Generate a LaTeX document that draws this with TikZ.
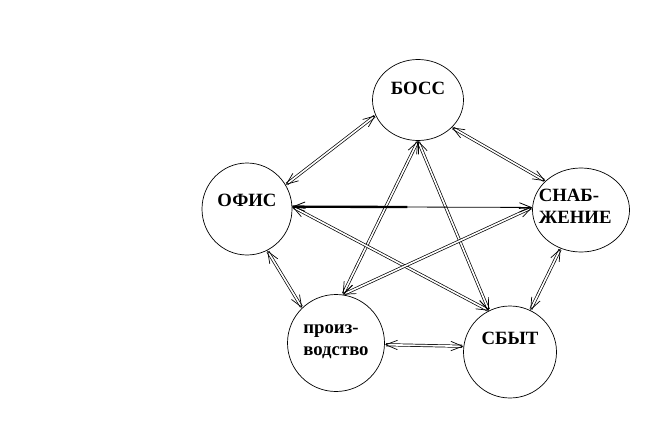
\documentclass[tikz,border=0pt]{standalone}
\usepackage{fontspec}
\setmainfont{Liberation Serif}
\usetikzlibrary{arrows.meta, shapes.geometric, calc}

\begin{document}
\begin{tikzpicture}[
    x=0.03cm, y=-0.03cm,
    font=\fontsize{16}{19}\selectfont\bfseries,
    blob/.style={ellipse, draw, line width=0.6pt, inner sep=0pt},
    tag/.style={align=left, inner sep=0pt},
    link/.style={double, double distance=1.4pt, line width=0.6pt,
        {Straight Barb[length=10pt, width=8pt]}-{Straight Barb[length=10pt, width=8pt]}},
    solidlink/.style={line width=0.7pt,
        {Straight Barb[length=10pt, width=8pt]}-{Straight Barb[length=10pt, width=8pt]}},
    ]

    \useasboundingbox (0,0) rectangle (655,423);

    % circles of the five departments
    \node[blob, minimum width=2.73cm, minimum height=2.43cm,
          label={[tag, yshift=10pt]center:БОСС}] (boss) at (418,100) {};
    \node[blob, minimum width=2.70cm, minimum height=2.76cm,
          label={[tag, yshift=7pt]center:ОФИС}] (ofis) at (247,209) {};
    \node[blob, minimum width=2.91cm, minimum height=2.52cm,
          label={[tag, xshift=-5pt, yshift=3pt]center:СНАБ-\\ЖЕНИЕ}] (snab) at (581,210) {};
    \node[blob, minimum width=2.91cm, minimum height=2.91cm,
          label={[tag, yshift=1pt]center:произ-\\водство}] (proiz) at (336,343) {};
    \node[blob, minimum width=2.79cm, minimum height=2.76cm,
          label={[tag, yshift=12pt]center:СБЫТ}] (sbyt) at (510,352) {};

    % outer ring
    \draw[link] (boss.200) -- (ofis.32);
    \draw[link] (boss.321) -- (snab.141);
    \draw[link] (snab.242) -- (sbyt.64);
    \draw[link] (proiz.358) -- (sbyt.173);
    \draw[link] (ofis.296) -- (proiz.134);

    % inner star
    \draw[link] (boss.270) -- (proiz.82);
    \draw[link] (boss.270) -- (sbyt.117);
    \draw[link] (ofis.3) -- (sbyt.117);
    \draw[link] (snab.177) -- (proiz.82);
    \draw[solidlink] (ofis.3) -- (snab.177);
    \coordinate (half) at ($(ofis.3)!0.48!(snab.177)$);
    \draw[line width=2pt] (ofis.3) -- (half);

\end{tikzpicture}
\end{document}
